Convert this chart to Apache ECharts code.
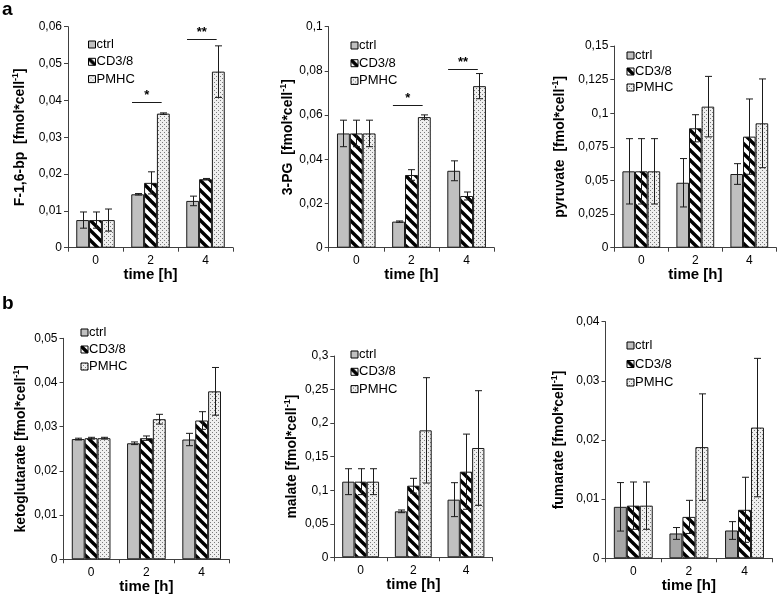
<!DOCTYPE html>
<html><head><meta charset="utf-8">
<script src="https://cdn.jsdelivr.net/npm/echarts@6/dist/echarts.min.js"></script>
<style>html,body{margin:0;padding:0;background:#fff}#c{width:778px;height:594px}</style>
</head><body><div id="c"></div>
<script>
// ---------- DATA ----------
const categories = ['0', '2', '4'];
const groupNames = ['ctrl', 'CD3/8', 'PMHC'];

// F-1,6-bp
const f16bp_ctrl = [0.0075, 0.0145, 0.0127];
const f16bp_cd38 = [0.0075, 0.0176, 0.0186];
const f16bp_pmhc = [0.0075, 0.0364, 0.0478];
const f16bp_ctrl_err = [0.0022, 0.0002, 0.0013];
const f16bp_cd38_err = [0.0022, 0.0030, 0.0002];
const f16bp_pmhc_err = [0.0030, 0.0002, 0.0070];
const ticks_f16bp = ['0', '0,01', '0,02', '0,03', '0,04', '0,05', '0,06'];
const sig_f16bp = [[1, 0.0395, '*'], [2, 0.0566, '**']];

// 3-PG
const pg_ctrl = [0.0517, 0.0118, 0.0348];
const pg_cd38 = [0.0517, 0.0329, 0.0234];
const pg_pmhc = [0.0517, 0.0591, 0.0731];
const pg_ctrl_err = [0.0060, 0.0003, 0.0045];
const pg_cd38_err = [0.0060, 0.0024, 0.0018];
const pg_pmhc_err = [0.0060, 0.0010, 0.0057];
const ticks_pg = ['0', '0,02', '0,04', '0,06', '0,08', '0,1'];
const sig_pg = [[1, 0.0646, '*'], [2, 0.0807, '**']];

// pyruvate
const pyr_ctrl = [0.0568, 0.0483, 0.0548];
const pyr_cd38 = [0.0568, 0.0888, 0.0826];
const pyr_pmhc = [0.0568, 0.1049, 0.0925];
const pyr_ctrl_err = [0.0243, 0.0180, 0.0077];
const pyr_cd38_err = [0.0243, 0.0101, 0.0280];
const pyr_pmhc_err = [0.0243, 0.0225, 0.0330];
const ticks_pyr = ['0', '0,025', '0,05', '0,075', '0,1', '0,125', '0,15'];

// ketoglutarate
const keto_ctrl = [0.0272, 0.02625, 0.0271];
const keto_cd38 = [0.0274, 0.0274, 0.0314];
const keto_pmhc = [0.0274, 0.0317, 0.0380];
const keto_ctrl_err = [0.0002, 0.0003, 0.0014];
const keto_cd38_err = [0.0002, 0.0005, 0.0020];
const keto_pmhc_err = [0.0002, 0.0011, 0.0054];
const ticks_keto = ['0', '0,01', '0,02', '0,03', '0,04', '0,05'];

// malate
const mal_ctrl = [0.1127, 0.0685, 0.0859];
const mal_cd38 = [0.1127, 0.1067, 0.1276];
const mal_pmhc = [0.1127, 0.1892, 0.1629];
const mal_ctrl_err = [0.0193, 0.0020, 0.0253];
const mal_cd38_err = [0.0193, 0.0110, 0.0560];
const mal_pmhc_err = [0.0193, 0.0785, 0.0854];
const ticks_mal = ['0', '0,05', '0,1', '0,15', '0,2', '0,25', '0,3'];

// fumarate
const fum_ctrl = [0.0087, 0.0042, 0.0047];
const fum_cd38 = [0.0089, 0.0070, 0.0082];
const fum_pmhc = [0.0089, 0.0188, 0.0221];
const fum_ctrl_err = [0.0041, 0.0010, 0.0015];
const fum_cd38_err = [0.0040, 0.0028, 0.0055];
const fum_pmhc_err = [0.0040, 0.0090, 0.0117];
const ticks_fum = ['0', '0,01', '0,02', '0,03', '0,04'];

// ---------- PANELS ----------
const panels = [
  { label: 'F-1,6-bp  [fmol*cell', vals: [f16bp_ctrl, f16bp_cd38, f16bp_pmhc], errs: [f16bp_ctrl_err, f16bp_cd38_err, f16bp_pmhc_err], ticks: ticks_f16bp, tickStep: 0.01, sig: sig_f16bp },
  { label: '3-PG  [fmol*cell', vals: [pg_ctrl, pg_cd38, pg_pmhc], errs: [pg_ctrl_err, pg_cd38_err, pg_pmhc_err], ticks: ticks_pg, tickStep: 0.02, sig: sig_pg },
  { label: 'pyruvate  [fmol*cell', vals: [pyr_ctrl, pyr_cd38, pyr_pmhc], errs: [pyr_ctrl_err, pyr_cd38_err, pyr_pmhc_err], ticks: ticks_pyr, tickStep: 0.025, sig: [] },
  { label: 'ketoglutarate [fmol*cell', vals: [keto_ctrl, keto_cd38, keto_pmhc], errs: [keto_ctrl_err, keto_cd38_err, keto_pmhc_err], ticks: ticks_keto, tickStep: 0.01, sig: [] },
  { label: 'malate [fmol*cell', vals: [mal_ctrl, mal_cd38, mal_pmhc], errs: [mal_ctrl_err, mal_cd38_err, mal_pmhc_err], ticks: ticks_mal, tickStep: 0.05, sig: [] },
  { label: 'fumarate [fmol*cell', vals: [fum_ctrl, fum_cd38, fum_pmhc], errs: [fum_ctrl_err, fum_cd38_err, fum_pmhc_err], ticks: ticks_fum, tickStep: 0.01, sig: [] }
];

// layout (pixels)
const layout = [
  { left: 68, top: 26.7, width: 165, height: 221, yGap: 41, xGap: 20, legLeft: 88, legTop: 38, legGap: 4.3, ctrl: '#c0c0c0' },
  { left: 328.7, top: 26.7, width: 165.5, height: 221, yGap: 34, xGap: 19, legLeft: 350.5, legTop: 39, legGap: 4.7, ctrl: '#c0c0c0' },
  { left: 614.3, top: 46, width: 162, height: 201.7, yGap: 47, xGap: 18, legLeft: 626.5, legTop: 49, legGap: 3, ctrl: '#c0c0c0' },
  { left: 63.5, top: 338.3, width: 165.8, height: 221, yGap: 35, xGap: 17, legLeft: 80.5, legTop: 326, legGap: 4, ctrl: '#c0c0c0' },
  { left: 334.3, top: 356, width: 158, height: 201.3, yGap: 35, xGap: 18, legLeft: 350.5, legTop: 348, legGap: 4.3, ctrl: '#c0c0c0' },
  { left: 605.5, top: 321.7, width: 166.8, height: 236.6, yGap: 39, xGap: 19, legLeft: 626.5, legTop: 339, legGap: 5.5, ctrl: '#a6a6a6' }
];

const FONT = '"Liberation Sans", Arial, Helvetica, sans-serif';
const AXIS_COLOR = '#404040';

function hatchCanvas() {
  const s = 10; const c = document.createElement('canvas'); c.width = s; c.height = s;
  const g = c.getContext('2d'); g.fillStyle = '#fff'; g.fillRect(0, 0, s, s);
  g.strokeStyle = '#000'; g.lineWidth = 3.4;
  for (const o of [-s, 0, s]) { g.beginPath(); g.moveTo(o - 1, -1); g.lineTo(o + s + 1, s + 1); g.stroke(); }
  return c;
}
function dotCanvas() {
  const c = document.createElement('canvas'); c.width = 4; c.height = 4;
  const g = c.getContext('2d'); g.fillStyle = '#efefef'; g.fillRect(0, 0, 4, 4);
  g.fillStyle = '#7a7a7a'; g.fillRect(0, 0, 1, 1); g.fillRect(2, 2, 1, 1);
  return c;
}
const hatch = { image: hatchCanvas(), repeat: 'repeat' };
const dots = { image: dotCanvas(), repeat: 'repeat' };

const BAR_CAT_GAP = 0.3;

const option = {
  animation: false,
  backgroundColor: '#fff',
  title: [
    { text: 'a', left: 2, top: 0, padding: 0, textStyle: { fontSize: 19, fontWeight: 'bold', color: '#000', fontFamily: FONT } },
    { text: 'b', left: 2, top: 294, padding: 0, textStyle: { fontSize: 19, fontWeight: 'bold', color: '#000', fontFamily: FONT } }
  ],
  grid: [], xAxis: [], yAxis: [], legend: [], series: []
};

panels.forEach((p, i) => {
  const L = layout[i];
  const maxV = p.tickStep * (p.ticks.length - 1);
  option.grid.push({ left: L.left, top: L.top, width: L.width, height: L.height, containLabel: false, outerBoundsMode: 'none' });
  option.xAxis.push({
    type: 'category', gridIndex: i, data: categories,
    name: 'time [h]', nameLocation: 'middle', nameGap: L.xGap,
    nameTextStyle: { fontWeight: 'bold', fontSize: 15, color: '#000', fontFamily: FONT },
    axisLine: { show: true, lineStyle: { color: AXIS_COLOR, width: 1 } },
    axisTick: { show: true, length: 4, lineStyle: { color: AXIS_COLOR } },
    axisLabel: { fontSize: 12, color: '#000', margin: 7, fontFamily: FONT },
    splitLine: { show: false }
  });
  option.yAxis.push({
    type: 'value', gridIndex: i, min: 0, max: maxV, interval: p.tickStep,
    name: '{n|' + p.label + '}{s|-1}{n|]}', nameLocation: 'middle', nameGap: L.yGap, nameRotate: 90,
    nameMoveOverlap: false,
    nameTextStyle: {
      rich: {
        n: { fontSize: 14, fontWeight: 'bold', color: '#000', fontFamily: FONT, lineHeight: 17, verticalAlign: 'bottom' },
        s: { fontSize: 9, fontWeight: 'bold', color: '#000', fontFamily: FONT, lineHeight: 17, verticalAlign: 'top', padding: [1, 0, 0, 0] }
      }
    },
    axisLine: { show: true, lineStyle: { color: AXIS_COLOR, width: 1 } },
    axisTick: { show: true, length: 4, lineStyle: { color: AXIS_COLOR } },
    axisLabel: {
      fontSize: 12, color: '#000', margin: 6, fontFamily: FONT,
      formatter: v => { const k = Math.round(v / p.tickStep); return p.ticks[k] !== undefined ? p.ticks[k] : ''; }
    },
    splitLine: { show: false }
  });
  option.legend.push({
    show: true, orient: 'vertical', left: L.legLeft, top: L.legTop, padding: 0,
    itemWidth: 7, itemHeight: 7, itemGap: L.legGap, icon: 'rect',
    data: groupNames.map(n => ({ name: n, icon: 'rect' })),
    textStyle: { fontSize: 13, color: '#000', fontFamily: FONT, lineHeight: 12, padding: [0, 0, 0, -4] },
    selectedMode: false,
    itemStyle: { borderColor: '#000', borderWidth: 1 }
  });
  const fills = [L.ctrl, hatch, dots];
  groupNames.forEach((gname, g) => {
    option.series.push({
      type: 'bar', name: gname, xAxisIndex: i, yAxisIndex: i, data: p.vals[g],
      barGap: '0%', barCategoryGap: (BAR_CAT_GAP * 100) + '%',
      itemStyle: { color: fills[g], borderColor: '#1a1a1a', borderWidth: 1 },
      emphasis: { disabled: true }, silent: true
    });
  });
  // error bars
  const errData = [];
  groupNames.forEach((gname, g) => {
    p.vals[g].forEach((v, c) => { errData.push([c, g, v - p.errs[g][c], v + p.errs[g][c]]); });
  });
  option.series.push({
    type: 'custom', xAxisIndex: i, yAxisIndex: i, z: 5, silent: true,
    data: errData, encode: { x: 0, y: [2, 3] },
    renderItem: (params, api) => {
      const c = api.value(0), g = api.value(1), lo = api.value(2), hi = api.value(3);
      const band = api.size([1, 0])[0];
      const bw = band * (1 - BAR_CAT_GAP) / 3;
      const pLo = api.coord([c, lo]), pHi = api.coord([c, hi]);
      const x = Math.round(pLo[0] + (g - 1) * bw) + 0.5;
      const cap = 3.5;
      const st = { stroke: '#1a1a1a', lineWidth: 1 };
      return { type: 'group', children: [
        { type: 'line', shape: { x1: x, y1: pLo[1], x2: x, y2: pHi[1] }, style: st },
        { type: 'line', shape: { x1: x - cap, y1: pHi[1], x2: x + cap, y2: pHi[1] }, style: st },
        { type: 'line', shape: { x1: x - cap, y1: pLo[1], x2: x + cap, y2: pLo[1] }, style: st }
      ] };
    }
  });
  // significance markers
  if (p.sig.length) {
    option.series.push({
      type: 'custom', xAxisIndex: i, yAxisIndex: i, z: 6, silent: true,
      data: p.sig.map(s => [s[0], s[1]]), encode: { x: 0, y: 1 },
      renderItem: (params, api) => {
        const s = p.sig[params.dataIndex];
        const band = api.size([1, 0])[0];
        const gw = band * (1 - BAR_CAT_GAP);
        const pt = api.coord([api.value(0), api.value(1)]);
        const gl = pt[0] - gw / 2;
        const x1 = gl + 0.02 * gw, x2 = gl + 0.79 * gw;
        const y = Math.round(pt[1]) + 0.5;
        return { type: 'group', children: [
          { type: 'line', shape: { x1: x1, y1: y, x2: x2, y2: y }, style: { stroke: '#1a1a1a', lineWidth: 1 } },
          { type: 'text', style: { text: s[2], x: (x1 + x2) / 2, y: y - 1, align: 'center', verticalAlign: 'bottom', fontSize: 13, fontWeight: 'bold', fontFamily: FONT, fill: '#000' } }
        ] };
      }
    });
  }
});

const chart = echarts.init(document.getElementById('c'), null, { renderer: 'canvas' });
chart.setOption(option);
</script>
</body></html>
